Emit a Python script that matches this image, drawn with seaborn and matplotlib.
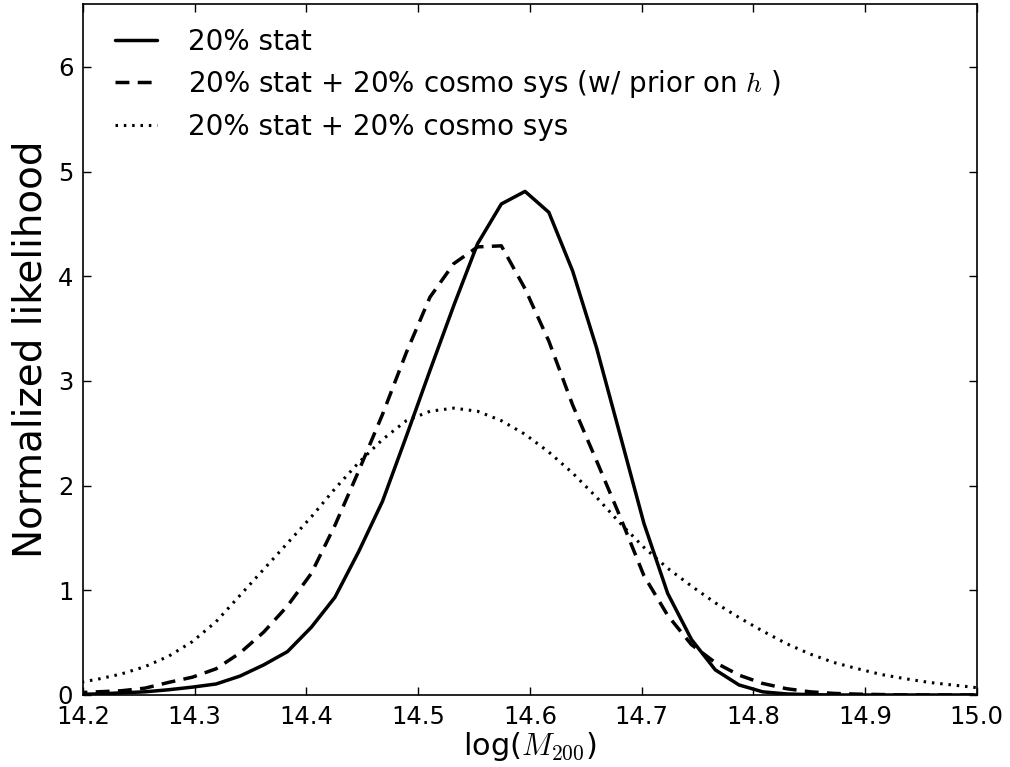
import matplotlib
matplotlib.use("Agg")
import matplotlib.pyplot as plt
import seaborn as sns

# sampling grid in log(M200)
log_m200 = [14.1915, 14.2128, 14.2340, 14.2553, 14.2766, 14.2979, 14.3191, 14.3404,
            14.3617, 14.3830, 14.4043, 14.4255, 14.4468, 14.4681, 14.4894, 14.5106,
            14.5319, 14.5532, 14.5745, 14.5957, 14.6170, 14.6383, 14.6596, 14.6809,
            14.7021, 14.7234, 14.7447, 14.7660, 14.7872, 14.8085, 14.8298, 14.8511,
            14.8723, 14.8936, 14.9149, 14.9362, 14.9574, 14.9787, 15.0000]

stat_only = [0.005, 0.01, 0.02, 0.03, 0.05, 0.075, 0.105, 0.18,
             0.287, 0.414, 0.646, 0.933, 1.37, 1.85, 2.47, 3.10,
             3.72, 4.31, 4.69, 4.81, 4.61, 4.05, 3.32, 2.48,
             1.64, 0.97, 0.53, 0.24, 0.096, 0.03, 0.01, 0.003,
             0.0, 0.0, 0.0, 0.0, 0.0, 0.0, 0.0]

stat_sys_prior = [0.02, 0.03, 0.04, 0.065, 0.12, 0.17, 0.25, 0.40,
                  0.60, 0.85, 1.16, 1.62, 2.14, 2.68, 3.27, 3.80,
                  4.12, 4.28, 4.29, 3.88, 3.38, 2.77, 2.24, 1.70,
                  1.14, 0.76, 0.48, 0.31, 0.19, 0.11, 0.06, 0.03,
                  0.015, 0.008, 0.004, 0.0, 0.0, 0.0, 0.0]

stat_sys = [0.11, 0.15, 0.20, 0.27, 0.37, 0.51, 0.70, 0.95,
            1.20, 1.45, 1.70, 1.97, 2.22, 2.44, 2.62, 2.71,
            2.74, 2.71, 2.62, 2.49, 2.32, 2.12, 1.89, 1.64,
            1.41, 1.21, 1.04, 0.88, 0.74, 0.61, 0.49, 0.39,
            0.31, 0.25, 0.195, 0.155, 0.12, 0.095, 0.07]

labels = ["20% stat",
          "20% stat + 20% cosmo sys (w/ prior on $h$ )",
          "20% stat + 20% cosmo sys"]

x_ticks = [14.2, 14.3, 14.4, 14.5, 14.6, 14.7, 14.8, 14.9, 15.0]
y_ticks = [0, 1, 2, 3, 4, 5, 6]

sns.set_style("ticks")
plt.rcParams["font.family"] = ["DejaVu Sans"]
plt.rcParams["mathtext.fontset"] = "cm"
plt.rcParams["lines.scale_dashes"] = False
for key in ["text.color", "axes.labelcolor", "xtick.color", "ytick.color"]:
    plt.rcParams[key] = "black"

fig = plt.figure(figsize=(10.1, 7.67), dpi=100)
ax = fig.add_axes([0.0822, 0.0939, 0.8848, 0.9009])

sns.lineplot(x=log_m200, y=stat_only, ax=ax, color="black", lw=2.5,
             label=labels[0])
sns.lineplot(x=log_m200, y=stat_sys_prior, ax=ax, color="black", lw=2.5,
             linestyle=(0, (10, 6)), label=labels[1])
sns.lineplot(x=log_m200, y=stat_sys, ax=ax, color="black", lw=2.2,
             linestyle=(0, (1.8, 4.2)), label=labels[2])

ax.set_xlim(14.2, 15.0)
ax.set_ylim(0, 6.6)
ax.set_xticks(x_ticks)
ax.set_xticklabels([f"{t:.1f}" for t in x_ticks])
ax.set_yticks(y_ticks)

ax.tick_params(direction="in", length=5.5, width=1, top=True, right=True,
               labelsize=17.5, pad=7)
for s in ax.spines.values():
    s.set_linewidth(1.2)
    s.set_color("black")

ax.set_xlabel("log($M_{200}$)", fontsize=22, labelpad=1)
ax.set_ylabel("Normalized likelihood", fontsize=28, labelpad=6)

ax.legend(loc="upper left", bbox_to_anchor=(0.0235, 0.982), frameon=False,
          fontsize=20, handlelength=1.51, handletextpad=1.1,
          labelspacing=0.45, borderaxespad=0.0, borderpad=0.4)

fig.savefig("out.png", dpi=100)
